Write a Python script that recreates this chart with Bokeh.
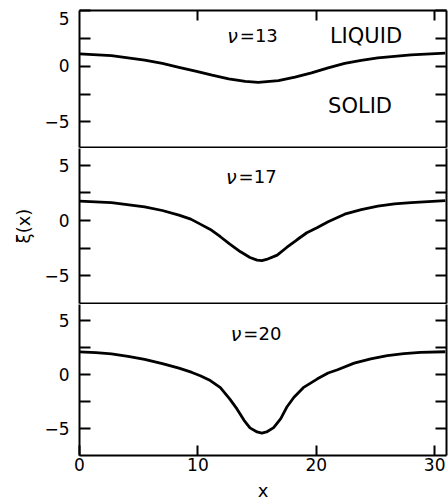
from bokeh.plotting import figure
from bokeh.layouts import column
from bokeh.models import Range1d, LinearAxis, FixedTicker, Label
from bokeh.embed import file_html
from bokeh.resources import INLINE

# ---- data ----
x13 = [0, 2.7, 5.5, 7.0, 8.4, 9.8, 11.2, 12.6, 14.0, 15.1, 16.8, 18.2, 19.6, 21.0, 22.4, 23.8, 25.2, 28.0, 30.9]
y13 = [1.1, 0.95, 0.55, 0.25, -0.1, -0.45, -0.8, -1.13, -1.37, -1.45, -1.3, -0.98, -0.6, -0.15, 0.25, 0.53, 0.75, 1.02, 1.18]

x17 = [0, 2.7, 5.5, 7.0, 8.4, 9.4, 10.2, 11.05, 11.9, 12.7, 13.6, 14.4, 15.0, 15.4, 15.8, 16.7, 17.5, 18.4, 19.2, 20.1, 21.0, 22.4, 23.8, 25.2, 26.6, 28.0, 30.9]
y17 = [1.74, 1.62, 1.23, 0.9, 0.48, 0.12, -0.33, -0.81, -1.47, -2.14, -2.83, -3.34, -3.58, -3.62, -3.52, -3.13, -2.44, -1.72, -1.11, -0.63, -0.12, 0.57, 0.98, 1.29, 1.5, 1.62, 1.8]

x20 = [0, 1.4, 2.7, 4.1, 5.5, 7.0, 8.4, 9.5, 10.2, 11.05, 11.9, 12.7, 13.3, 13.9, 14.4, 15.0, 15.4, 15.8, 16.4, 17.0, 17.5, 18.1, 18.9, 20.1, 21.0, 21.8, 23.2, 24.6, 26.0, 27.4, 28.8, 30.9]
y20 = [2.1, 2.03, 1.92, 1.7, 1.42, 1.02, 0.6, 0.2, -0.1, -0.55, -1.21, -2.27, -3.18, -4.24, -4.94, -5.32, -5.42, -5.32, -4.91, -4.09, -3.03, -2.12, -1.21, -0.39, 0.15, 0.45, 1.06, 1.45, 1.75, 1.94, 2.06, 2.12]

x_ticks = [10, 20, 30]
y_ticks = [-5, 0, 5]
y_minor = [-2.5, 2.5]

FONT = "DejaVu Sans"
W = 448
LEFT = 79
RIGHT = 2
TICK = 11


def style_axis(ax, labels=True):
    ax.axis_line_width = 2
    ax.axis_line_color = "black"
    ax.major_tick_line_width = 2
    ax.minor_tick_line_width = 2
    ax.major_tick_in = TICK
    ax.major_tick_out = 0
    ax.minor_tick_in = TICK
    ax.minor_tick_out = 0
    if labels:
        ax.major_label_text_font = FONT
        ax.major_label_text_font_size = "17px"
        ax.major_label_text_color = "black"
    else:
        ax.major_label_text_font_size = "0px"
        ax.major_label_text_color = None
        ax.major_label_standoff = 0


def panel(xs, ys, ylo, yhi, frame_h, top_b, bot_b, top_ticks, bottom_mode, ylabel=None, overrides=None):
    p = figure(width=W, height=frame_h + top_b + bot_b,
               x_range=Range1d(0, 31), y_range=Range1d(ylo, yhi),
               output_backend="svg", toolbar_location=None,
               x_axis_location=None, y_axis_location=None)
    p.min_border_left = LEFT
    p.min_border_right = RIGHT
    p.min_border_top = top_b
    p.min_border_bottom = bot_b
    p.outline_line_color = None
    p.xgrid.visible = False
    p.ygrid.visible = False
    p.background_fill_color = "white"
    p.border_fill_color = "white"

    left = LinearAxis(ticker=FixedTicker(ticks=y_ticks, minor_ticks=y_minor))
    style_axis(left)
    left.major_label_standoff = 10
    if overrides:
        left.major_label_overrides = overrides
        left.major_label_text_line_height = 0.4
    if ylabel:
        left.axis_label = ylabel
        left.axis_label_text_font = FONT
        left.axis_label_text_font_size = "18px"
        left.axis_label_text_font_style = "normal"
        left.axis_label_text_color = "black"
        left.axis_label_standoff = 7
    p.add_layout(left, "left")

    right = LinearAxis(ticker=FixedTicker(ticks=y_ticks, minor_ticks=y_minor))
    style_axis(right, labels=False)
    p.add_layout(right, "right")

    if top_ticks:
        top = LinearAxis(ticker=FixedTicker(ticks=x_ticks, minor_ticks=[]))
        style_axis(top, labels=False)
        top.major_tick_in = 10
        p.add_layout(top, "above")

    if bottom_mode == "line":
        b = LinearAxis(ticker=FixedTicker(ticks=[], minor_ticks=[]))
        style_axis(b, labels=False)
        p.add_layout(b, "below")
    else:
        b = LinearAxis(ticker=FixedTicker(ticks=[0] + x_ticks, minor_ticks=[]))
        style_axis(b)
        b.major_tick_in = 10
        b.major_label_standoff = 2
        b.axis_label = "x"
        b.axis_label_text_font = FONT
        b.axis_label_text_font_size = "18px"
        b.axis_label_text_font_style = "normal"
        b.axis_label_text_color = "black"
        b.axis_label_standoff = 6
        p.add_layout(b, "below")

    p.line(xs, ys, line_color="black", line_width=2.8)
    return p


def label(p, x, y, text, size="21px", align="center", xoff=0, yoff=0, style="normal"):
    p.add_layout(Label(x=x, y=y, text=text, text_align=align, text_baseline="middle",
                       x_offset=xoff, y_offset=yoff,
                       text_font=FONT, text_font_size=size, text_font_style=style,
                       text_color="black"))


def nu_label(p, x, y, num):
    label(p, x, y, "ν", size="19px", align="right", xoff=-11, style="italic")
    label(p, x, y, "=" + num, size="18px", align="left", xoff=-9)


p1 = panel(x13, y13, -7.3, 5.0, 137, 10, 1, True, "line", overrides={5: "\n5"})
nu_label(p1, 14.3, 2.75, "13")
label(p1, 24.2, 2.75, "LIQUID")
label(p1, 23.7, -3.55, "SOLID")

p2 = panel(x17, y17, -7.5, 6.5, 155, 0, 1, False, "line", ylabel="ξ(x)")
nu_label(p2, 14.2, 3.95, "17")

p3 = panel(x20, y20, -7.5, 6.5, 151, 0, 48, False, "labels")
nu_label(p3, 14.6, 3.8, "20")

layout = column(p1, p2, p3, spacing=0)
open("out.html", "w").write(file_html(layout, INLINE))
